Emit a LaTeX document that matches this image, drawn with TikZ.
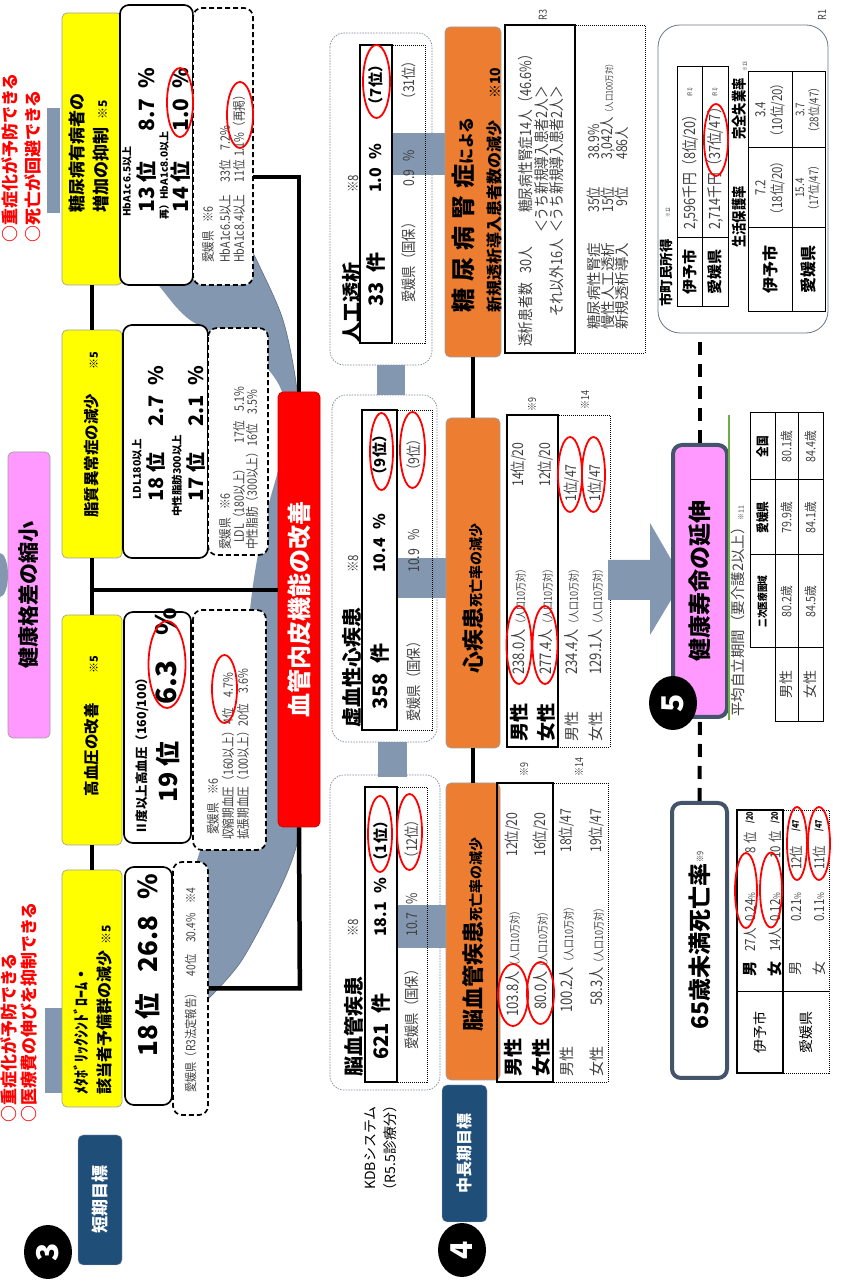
\documentclass[tikz,border=0pt]{standalone}
\usepackage{fontspec}
\setmainfont{Noto Sans CJK JP}
\newfontfamily\cnd{Noto Sans CJK JP}[FakeStretch=0.82]
\usetikzlibrary{shapes.geometric,positioning,calc}
\newcommand{\fz}[1]{\fontsize{#1}{\fpeval{1.2*(#1)}}\selectfont}
\definecolor{yfill}{HTML}{FFFF00}
\definecolor{ofill}{HTML}{ED7D31}
\definecolor{pfill}{HTML}{FF99FF}
\definecolor{navy}{HTML}{1F4E79}
\definecolor{band}{HTML}{8497B0}
\definecolor{slate}{HTML}{44546A}
\definecolor{leaf}{HTML}{70AD47}
\definecolor{ink}{HTML}{404040}

\begin{document}
\begin{tikzpicture}[x=1pt,y=1pt,rotate=90,transform shape,
  wh/.style 2 args={minimum width=#1pt,minimum height=#2pt},
  goal/.style={rectangle,rounded corners=5pt,draw=gray!75,line width=0.7pt,inner sep=0pt},
  tag/.style={rectangle,rounded corners=5pt,fill=navy,draw=gray!60,text=white,inner sep=0pt,font=\bfseries\fz{17}},
  num/.style={ellipse,fill=black,text=white,inner sep=0pt,minimum width=54pt,minimum height=48pt,font=\bfseries\fz{30}},
  wbox/.style={rectangle,rounded corners=9pt,draw=black,line width=1.7pt,fill=white,inner sep=0pt},
  dbox/.style={wbox,dash pattern=on 5pt off 3pt},
  grp/.style={rectangle,rounded corners=14pt,draw=slate!70,line width=0.7pt,dash pattern=on 1.5pt off 1.2pt,fill=white,inner sep=0pt},
  sbox/.style={rectangle,draw=black,line width=2pt,inner sep=0pt},
  dotbox/.style={rectangle,draw=black,line width=0.9pt,dash pattern=on 1pt off 1pt,inner sep=0pt},
  bigbox/.style={rectangle,rounded corners=9pt,draw=slate,line width=4pt,inner sep=0pt},
  ring/.style={ellipse,draw=red,line width=1.8pt,inner sep=0pt},
  link/.style={line width=4.5pt},
  dashlink/.style={line width=4pt,dash pattern=on 13pt off 9pt},
  tline/.style={line width=1pt},
  bt/.style={inner sep=0pt,font=\bfseries\fz{#1}},
  cbt/.style={inner sep=0pt,font=\cnd\bfseries\fz{#1}},
  lt/.style={inner sep=0pt,text=ink,font=\cnd\fz{#1}},
  rt/.style={inner sep=0pt,text=ink,font=\fz{#1}}]
\useasboundingbox (0,0) rectangle (1282,-843);
%%%%%%%%%%%%%%%%%%%%%%%%%%%%
%%%%%%%%% Background %%%%%%%
%%%%%%%%%%%%%%%%%%%%%%%%%%%%
\fill[band] plot[smooth] coordinates {(1030,-252) (1019,-258) (962,-283) (892,-297) (800,-303) (672,-306) (540,-304) (454,-300) (402,-284) (322,-242) (282,-207)}
  -- plot[smooth] coordinates {(282,-150) (322,-172) (425,-198) (500,-228) (582,-243) (672,-250) (722,-257) (775,-268) (830,-282) (890,-282) (930,-250) (962,-190) (995,-160) (1010,-150)} -- cycle;
\draw[slate!80,line width=0.7pt] plot[smooth] coordinates {(1030,-252) (1019,-258) (962,-283) (892,-297) (800,-303) (672,-306) (540,-304) (454,-300) (402,-284) (322,-242) (282,-207)};
\fill[band] (189,-45) rectangle (274,-63);
\fill[band] (1069,-47) rectangle (1174,-60);
\fill[band] (707,0) ellipse [x radius=22, y radius=8];
%%%%%%%%%%%%%%%%%%%%%%%%%%%%
%%%%%%%%% Step 3. %%%%%%%%%%
%%%%%%%%%%%%%%%%%%%%%%%%%%%%
\node[num] (no3) at (30,-48) {3};
\node[tag,wh={130}{44}] (short) at (82,-100) {短期目標};
\node[inner sep=0pt,text=red,anchor=west,align=left,font=\bfseries\fontsize{17}{20}\selectfont] (aimlow) at (159,-19) {○重症化が予防できる\\○医療費の伸びを抑制できる};
\node[inner sep=0pt,text=red,anchor=west,align=left,font=\bfseries\fontsize{17}{23}\selectfont] (aimhigh) at (1039,-21.5) {○重症化が予防できる\\○死亡が回避できる};
\node[goal,fill=yfill,wh={237}{60}] (metabo) at (293.5,-92) {};
\node[goal,fill=yfill,wh={230}{60}] (bp) at (552,-92) {};
\node[goal,fill=yfill,wh={228}{60}] (lipid) at (838,-92) {};
\node[goal,fill=yfill,wh={272}{60}] (dm) at (1133,-92) {};
\node[anchor=west,align=left,inner sep=0pt,font=\bfseries\fontsize{16}{23}\selectfont] (metabot) at (187,-93) {ﾒﾀﾎﾞﾘｯｸｼﾝﾄﾞﾛｰﾑ・\\該当者予備群の減少\hspace{6pt}{\fz{12}※5}};
\node[bt=15.5] (bpt) at (556,-92) {高血圧の改善\hspace{30pt}{\fz{11}※5}};
\node[bt=15.5] (lipidt) at (847,-92) {脂質異常症の減少\hspace{24pt}{\fz{11}※5}};
\node[anchor=west,align=left,inner sep=0pt,font=\bfseries\fontsize{17}{23.5}\selectfont] (dmt) at (1069,-89) {糖尿病有病者の\\増加の抑制\hspace{8pt}{\fz{12}※5}};
\node[wbox,wh={238}{47}] (metaboval) at (296,-148.5) {};
\node[wbox,wh={231}{67}] (bpval) at (554.5,-157.5) {};
\node[wbox,wh={233}{85}] (lipidval) at (840.5,-165.5) {};
\node[wbox,wh={280}{73}] (dmval) at (1137,-156.5) {};
\node[dbox,wh={253}{35}] (metabopref) at (293.5,-190.5) {};
\node[dbox,wh={240}{73}] (bppref) at (552,-229.5) {};
\node[dbox,wh={227}{60}] (lipidpref) at (840.5,-238) {};
\node[dbox,wh={277}{60}] (dmpref) at (1135.5,-223) {};
% values
\node[bt=26,anchor=west] (mv1) at (225,-148) {18 位\hspace{21pt}26.8\hspace{16pt}\%};
\node[bt=12.5,anchor=west] (bv1) at (447,-142) {Ⅱ度以上高血圧（160/100）};
\node[bt=25,anchor=west] (bv2) at (479,-168) {19 位};
\node[bt=28,anchor=west] (bv3) at (577,-166) {6.3\hspace{25pt}\%};
\node[ring,wh={87}{37}] (bvr) at (617.5,-167) {};
\node[bt=10.5,anchor=west] (lv1) at (782,-137) {LDL180以上};
\node[bt=20,anchor=west] (lv2) at (780,-156) {18 位};
\node[bt=20,anchor=west] (lv3) at (855,-156) {2.7\hspace{10pt}\%};
\node[bt=10.5,anchor=west] (lv4) at (765,-177) {中性脂肪300以上};
\node[bt=20,anchor=west] (lv5) at (780,-196) {17 位};
\node[bt=20,anchor=west] (lv6) at (855,-196) {2.1\hspace{10pt}\%};
\node[bt=10,anchor=west] (dv1) at (1065,-127) {HbA1c 6.5以上};
\node[bt=21,anchor=west] (dv2) at (1069,-147) {13 位};
\node[bt=21,anchor=west] (dv3) at (1150,-147) {8.7\hspace{10pt}\%};
\node[bt=10,anchor=west] (dv4) at (1062,-164) {再）HbA1c8.0以上};
\node[bt=21,anchor=west] (dv5) at (1069,-181) {14 位};
\node[bt=21,anchor=west] (dv6) at (1150,-181) {1.0\hspace{10pt}\%};
\node[ring,wh={69}{26}] (dvr) at (1179.5,-180) {};
% prefecture
\node[lt=12.5,anchor=west] (mp1) at (189,-190.5) {愛媛県（R3法定報告）\hspace{12pt}40位\hspace{12pt}30.4\%\hspace{10pt}※4};
\node[lt=13,anchor=west] (bp1) at (447,-213) {愛媛県\hspace{8pt}※6};
\node[lt=13,anchor=west] (bp2) at (442,-228) {収縮期血圧（160以上）\hspace{2pt}4位\hspace{10pt}4.7\%};
\node[lt=13,anchor=west] (bp3) at (442,-243) {拡張期血圧（100以上）20位\hspace{10pt}3.6\%};
\node[ring,wh={68}{25}] (bpr) at (593,-224.5) {};
\node[lt=13,anchor=west] (lp1) at (732,-225) {愛媛県\hspace{8pt}※6};
\node[lt=13,anchor=west] (lp2) at (739,-239) {LDL（180以上）\hspace{20pt}17位\hspace{10pt}5.1\%};
\node[lt=13,anchor=west] (lp3) at (732,-252) {中性脂肪（300以上）16位\hspace{10pt}3.5\%};
\node[lt=13,anchor=west] (dp1) at (1019,-208) {愛媛県\hspace{8pt}※6};
\node[lt=13,anchor=west] (dp2) at (1019,-225) {HbA1c6.5以上\hspace{12pt}33位\hspace{10pt}7.2\%};
\node[lt=13,anchor=west] (dp3) at (1019,-239) {HbA1c8.4以上\hspace{12pt}11位\hspace{3pt}1.1\%（再掲）};
\node[ring,wh={66}{26}] (dpr) at (1167,-240) {};
\node[goal,fill=pfill,wh={286}{42},font=\bfseries\fz{21}] (gap) at (687,-29) {健康格差の縮小};
\node[goal,fill=red,draw=red!80!black,wh={435}{42},text=white,font=\bfseries\fz{24}] (vessel) at (672.5,-299) {血管内皮機能の改善};
\draw[link] (dm.west) -- (lipid.east);
\draw[link] (lipid.west) -- (bp.east);
\draw[link] (bp.west) -- (metabo.east);
\coordinate (tap) at (692,-92);
\draw[link] (tap) -- (tap |- vessel.north);
\draw[link] (metabopref.south) -- ++(0,-91) -- (vessel.west);
\coordinate (dmtap) at (1105,-253);
\draw[link] (dmtap) -- ++(0,-46) -- (vessel.east);
%%%%%%%%%%%%%%%%%%%%%%%%%%%%
%%%%%%%%% Step 4. %%%%%%%%%%
%%%%%%%%%%%%%%%%%%%%%%%%%%%%
\node[num] (no4) at (32,-462) {4};
\node[tag,wh={137}{45},font=\bfseries\fz{16}] (midlong) at (128.5,-464.5) {中長期目標};
\node[inner sep=0pt,align=center,font=\fontsize{14}{20}\selectfont] (kdb) at (134,-381) {KDBシステム\\（R5.5診療分）};
\node[grp,wh={315}{110}] (stroke) at (349.5,-385) {};
\node[grp,wh={347}{105}] (heart) at (713.5,-384.5) {};
\node[grp,wh={332}{102}] (dialysis) at (1083,-381) {};
\fill[band] (505,-378) rectangle (540,-407);
\fill[band] (887,-377) rectangle (917,-405);
\fill[band] (334,-398) rectangle (377,-450);
\fill[band] (684,-398) rectangle (724,-448);
\fill[band] (1107,-393) rectangle (1149,-446);
\node[sbox,wh={295}{32}] (strokeown) at (347.5,-381) {};
\node[dotbox,wh={295}{30}] (strokepref) at (347.5,-412) {};
\node[sbox,wh={320}{35}] (heartown) at (712,-379.5) {};
\node[dotbox,wh={320}{35}] (heartpref) at (712,-414.5) {};
\node[sbox,wh={298}{32}] (dialown) at (1088,-376) {};
\node[dotbox,wh={298}{33}] (dialpref) at (1088,-408.5) {};
\node[bt=20,anchor=west] (st1) at (205,-354) {脳血管疾患};
\node[lt=14,anchor=west] (st2) at (345,-353) {※8};
\node[bt=20,anchor=west] (ht1) at (554,-352) {虚血性心疾患};
\node[lt=14,anchor=west] (ht2) at (709,-353) {※8};
\node[bt=20,anchor=west] (dt1) at (939,-352) {人工透析};
\node[lt=14,anchor=west] (dt2) at (1089,-353) {※8};
\node[bt=20,anchor=west] (so1) at (222,-381) {621\hspace{10pt}件};
\node[bt=16,anchor=west] (so2) at (345,-381) {18.1\hspace{8pt}\%};
\node[bt=15] (so3) at (441,-381) {（1位）};
\node[ring,wh={76}{24}] (sor) at (448,-380) {};
\node[lt=15,anchor=west] (sp1) at (232,-412) {愛媛県（国保）};
\node[lt=15,anchor=west] (sp2) at (345,-412) {10.7\hspace{8pt}\%};
\node[lt=15] (sp3) at (443,-412) {（12位）};
\node[ring,wh={76}{25}] (spr) at (450,-409.5) {};
\node[bt=20,anchor=west] (ho1) at (572,-380) {358\hspace{10pt}件};
\node[bt=16,anchor=west] (ho2) at (709,-380) {10.4\hspace{8pt}\%};
\node[bt=15] (ho3) at (827,-380) {（9位）};
\node[ring,wh={77}{23}] (hor) at (830.5,-381.5) {};
\node[lt=15,anchor=west] (hp1) at (560,-414) {愛媛県（国保）};
\node[lt=15,anchor=west] (hp2) at (709,-414) {10.9\hspace{8pt}\%};
\node[lt=15] (hp3) at (827,-414) {（9位）};
\node[ring,wh={76}{25}] (hpr) at (832,-412.5) {};
\node[bt=20,anchor=west] (do1) at (975,-376) {33\hspace{10pt}件};
\node[bt=16,anchor=west] (do2) at (1089,-376) {1.0\hspace{8pt}\%};
\node[bt=15] (do3) at (1197,-376) {（7位）};
\node[ring,wh={73}{27}] (dor) at (1200.5,-376.5) {};
\node[lt=15,anchor=west] (dp4) at (979,-409) {愛媛県（国保）};
\node[lt=15,anchor=west] (dp5) at (1095,-409) {0.9\hspace{8pt}\%};
\node[lt=15] (dp6) at (1202,-409) {（31位）};
% death rates
\node[goal,fill=ofill,wh={297}{54}] (strokedeath) at (350.5,-473) {};
\node[goal,fill=ofill,wh={330}{54}] (heartdeath) at (699,-473) {};
\node[goal,fill=ofill,wh={330}{56}] (newdial) at (1090,-473) {};
\node[inner sep=0pt,font=\bfseries] (sdt) at (347,-473) {{\fz{22}脳血管疾患}{\fz{14}死亡率の減少}};
\node[inner sep=0pt,font=\bfseries] (hdt) at (683,-473) {{\fz{22}心疾患}{\fz{14}死亡率の減少}};
\node[inner sep=0pt,anchor=west,align=left,font=\bfseries\fontsize{16}{28}\selectfont] (ndt) at (969,-477) {{\fz{24}糖\kern7pt 尿\kern7pt 病\kern7pt 腎\kern7pt 症}{\fz{16}による}\\新規透析導入患者数の減少\hspace{22pt}{\fz{14}※10}};
\draw[link] (strokedeath.east) -- (heartdeath.west);
\draw[link] (heartdeath.east) -- (newdial.west);
\node[sbox,wh={299}{56}] (stab) at (349.5,-525) {};
\node[dotbox,wh={299}{55}] (stabp) at (349.5,-580.5) {};
\node[sbox,wh={332}{51}] (htab) at (701,-532.5) {};
\node[dotbox,wh={332}{52}] (htabp) at (701,-584) {};
\node[sbox,wh={328}{70}] (dtab) at (1093,-540) {};
\node[dotbox,wh={328}{70}] (dtabp) at (1093,-610) {};
% stroke table
\node[bt=19,anchor=west] (sa1) at (205,-513) {男性};
\node[lt=16,anchor=west] (sa2) at (265,-513) {103.8人{\fz{11}（人口10万対）}};
\node[lt=15,anchor=west] (sa3) at (425,-513) {12位/20};
\node[bt=19,anchor=west] (sa4) at (205,-541) {女性};
\node[lt=16,anchor=west] (sa5) at (272,-541) {80.0人{\fz{11}（人口10万対）}};
\node[lt=15,anchor=west] (sa6) at (425,-541) {16位/20};
\node[ring,wh={62}{30}] (sar1) at (287,-513) {};
\node[ring,wh={62}{27}] (sar2) at (289,-540.5) {};
\node[rt=15,anchor=west] (sa7) at (205,-567) {男性};
\node[lt=16,anchor=west] (sa8) at (269,-567) {100.2人{\fz{11}（人口10万対）}};
\node[lt=15,anchor=west] (sa9) at (429,-567) {18位/47};
\node[rt=15,anchor=west] (sa10) at (205,-597) {女性};
\node[lt=16,anchor=west] (sa11) at (276,-597) {58.3人{\fz{11}（人口10万対）}};
\node[lt=15,anchor=west] (sa12) at (429,-597) {19位/47};
\node[lt=11,anchor=west] (sa13) at (505,-524) {※9};
\node[lt=11,anchor=west] (sa14) at (505,-579) {※14};
% heart table
\node[bt=19,anchor=west] (ha1) at (540,-519) {男性};
\node[lt=16,anchor=west] (ha2) at (607,-519) {238.0人{\fz{11}（人口10万対）}};
\node[lt=15,anchor=west] (ha3) at (795,-519) {14位/20};
\node[bt=19,anchor=west] (ha4) at (540,-546) {女性};
\node[lt=16,anchor=west] (ha5) at (607,-546) {277.4人{\fz{11}（人口10万対）}};
\node[lt=15,anchor=west] (ha6) at (795,-546) {12位/20};
\node[ring,wh={78}{25}] (har1) at (637,-519) {};
\node[ring,wh={78}{25}] (har2) at (637,-545) {};
\node[rt=15,anchor=west] (ha7) at (540,-572) {男性};
\node[lt=16,anchor=west] (ha8) at (607,-572) {234.4人{\fz{11}（人口10万対）}};
\node[lt=15,anchor=west] (ha9) at (780,-572) {1位/47};
\node[rt=15,anchor=west] (ha10) at (540,-596) {女性};
\node[lt=16,anchor=west] (ha11) at (607,-596) {129.1人{\fz{11}（人口10万対）}};
\node[lt=15,anchor=west] (ha12) at (780,-596) {1位/47};
\node[ring,wh={75}{24}] (har3) at (807.5,-570) {};
\node[ring,wh={75}{23}] (har4) at (807.5,-593.5) {};
\node[lt=11,anchor=west] (ha13) at (870,-532) {※9};
\node[lt=11,anchor=west] (ha14) at (872,-585) {※14};
% dialysis table
\node[lt=15.5,anchor=west] (da1) at (935,-526) {透析患者数\hspace{10pt}30人};
\node[lt=15.5,anchor=west] (da2) at (1069,-526) {糖尿病性腎症14人（46.6\%）};
\node[lt=15.5,anchor=west] (da3) at (1049,-542) {＜うち新規導入患者2人＞};
\node[lt=15.5,anchor=west] (da4) at (965,-557) {それ以外16人};
\node[lt=15.5,anchor=west] (da5) at (1049,-557) {＜うち新規導入患者2人＞};
\node[lt=11] (da6) at (1267,-543) {R3};
\node[rt=14.5,anchor=west] (da7) at (952,-594) {糖尿病性腎症};
\node[lt=15,anchor=west] (da8) at (1069,-594) {35位};
\node[lt=15,anchor=west] (da9) at (1122,-594) {38.9\%};
\node[rt=14.5,anchor=west] (da10) at (952,-608) {慢性人工透析};
\node[lt=15,anchor=west] (da11) at (1069,-608) {15位};
\node[lt=15,anchor=west] (da12) at (1122,-608) {3,042人{\fz{9}（人口100万対）}};
\node[rt=14.5,anchor=west] (da13) at (952,-622) {新規透析導入};
\node[lt=15,anchor=west] (da14) at (1075,-622) {9位};
\node[lt=15,anchor=west] (da15) at (1122,-622) {486人};
\node[lt=11] (da16) at (1267,-822) {R1};
%%%%%%%%%%%%%%%%%%%%%%%%%%%%
%%%%%%%%% Step 5. %%%%%%%%%%
%%%%%%%%%%%%%%%%%%%%%%%%%%%%
\node[rectangle,rounded corners=22pt,draw=slate!80,line width=0.8pt,wh={308}{170}] (income) at (1103,-743) {};
\node[bt=13.5,anchor=west] (inct) at (975,-666) {市町民所得};
\node[lt=6,anchor=west] (inc12) at (1064,-668) {※12};
\node[tline,draw,rectangle,inner sep=0pt,wh={240}{51}] (inctab) at (1095,-702.5) {};
\draw[tline] (inctab.west) -- (inctab.east);
\draw[tline] (1044,-677) -- (1044,-728);
\node[bt=15] (ia1) at (1009.5,-690) {伊予市};
\node[bt=15] (ia2) at (1009.5,-715) {愛媛県};
\node[lt=15.5,anchor=west] (ia3) at (1052,-690) {2,596千円（8位/20）};
\node[lt=6,anchor=west] (ia4) at (1185,-690) {(R1)};
\node[lt=15.5,anchor=west] (ia5) at (1052,-715) {2,714千円（37位/47）};
\node[lt=6,anchor=west] (ia6) at (1185,-715) {(R1)};
\node[ring,wh={72}{24}] (iar) at (1142,-716) {};
\node[cbt=15,anchor=west] (wl1) at (1034,-739) {生活保護率};
\node[cbt=15,anchor=west] (wl2) at (1142,-739) {完全失業率};
\node[lt=6,anchor=west] (wl3) at (1210,-745) {※13};
\node[tline,draw,rectangle,inner sep=0pt,wh={240}{77}] (wltab) at (1090,-786.5) {};
\draw[tline] (970,-792) -- (1210,-792);
\draw[tline] (1054,-748) -- (1054,-825);
\draw[tline] (1134,-748) -- (1134,-825);
\node[bt=16] (wa1) at (1012,-770) {伊予市};
\node[bt=16] (wa2) at (1012,-808) {愛媛県};
\node[lt=14,align=center] (wa3) at (1094,-770) {7.2\\（18位/20）};
\node[lt=14,align=center] (wa4) at (1172,-770) {3.4\\（10位/20）};
\node[lt=14,align=center,font=\cnd\fontsize{12}{14}\selectfont] (wa5) at (1094,-808) {15.4\\（17位/47）};
\node[lt=14,align=center,font=\cnd\fontsize{12}{14}\selectfont] (wa6) at (1172,-808) {3.7\\（28位/47）};
% healthy life expectancy
\fill[band] (682,-608) -- (722,-608) -- (722,-650) -- (759,-650) -- (702,-683) -- (647,-650) -- (682,-650) -- cycle;
\node[bigbox,fill=pfill,wh={272}{54},font=\bfseries\fz{23}] (kenko) at (701,-700) {健康寿命の延伸};
\draw[leaf,line width=1.2pt] (562,-729) -- (867,-729);
\node[num] (no5) at (579,-673) {5};
\node[bigbox,fill=white,wh={275}{55}] (under65) at (341.5,-699.5) {};
\node[bt=23,anchor=west] (u65t) at (252,-700) {65歳未満死亡率};
\node[lt=9,anchor=west] (u65n) at (419,-700) {※9};
\draw[dashlink] (kenko.east) -- (income.west |- kenko.east);
\draw[dashlink] (under65.east) -- (kenko.west);
\node[rt=14.5,anchor=west] (avg) at (565,-738) {平均自立期間（要介護2以上）{\fz{7}※11}};
\draw[tline] (634,-750) rectangle (869,-775);
\draw[tline] (560,-775) rectangle (869,-823);
\draw[tline] (560,-798) -- (869,-798);
\draw[tline] (634,-750) -- (634,-823);
\draw[tline] (727,-750) -- (727,-823);
\draw[tline] (802,-750) -- (802,-823);
\node[cbt=10.5] (lh1) at (680.5,-762.5) {二次医療圏域};
\node[cbt=13] (lh2) at (764.5,-762.5) {愛媛県};
\node[cbt=13] (lh3) at (835.5,-762.5) {全国};
\node[rt=14] (lm) at (597,-786.5) {男性};
\node[rt=14] (lf) at (597,-810.5) {女性};
\node[lt=13] (lv11) at (680.5,-786.5) {80.2歳};
\node[lt=13] (lv12) at (764.5,-786.5) {79.9歳};
\node[lt=13] (lv13) at (835.5,-786.5) {80.1歳};
\node[lt=13] (lv21) at (680.5,-810.5) {84.5歳};
\node[lt=13] (lv22) at (764.5,-810.5) {84.1歳};
\node[lt=13] (lv23) at (835.5,-810.5) {84.4歳};
% under 65 table
\node[sbox,wh={263}{46}] (mtab) at (340.5,-760) {};
\node[dotbox,wh={263}{46}] (mtabp) at (340.5,-806) {};
\draw[tline] (290,-737) -- (290,-829);
\node[rt=14,text=black] (m1) at (249.5,-760) {伊予市};
\node[rt=14,text=black] (m2) at (249.5,-806) {愛媛県};
\node[bt=15] (m3) at (313,-750) {男};
\node[bt=15] (m4) at (313,-775) {女};
\node[rt=14] (m5) at (313,-796) {男};
\node[rt=14] (m6) at (313,-819) {女};
\node[lt=14,anchor=west] (m7) at (330,-750) {27人};
\node[lt=14,anchor=west] (m8) at (360,-750) {0.24{\fz{9}\%}};
\node[lt=14,anchor=west] (m9) at (428,-750) {8\hspace{4pt}位};
\node[cbt=9,anchor=west] (m10) at (458,-750) {/20};
\node[lt=14,anchor=west] (m11) at (330,-775) {14人};
\node[lt=14,anchor=west] (m12) at (360,-775) {0.12{\fz{9}\%}};
\node[lt=14,anchor=west] (m13) at (423,-775) {10\hspace{4pt}位};
\node[cbt=9,anchor=west] (m14) at (458,-775) {/20};
\node[lt=14,anchor=west] (m15) at (360,-796) {0.21{\fz{9}\%}};
\node[lt=14,anchor=west] (m16) at (412,-796) {12位};
\node[cbt=9,anchor=west] (m17) at (450,-796) {/47};
\node[lt=14,anchor=west] (m18) at (360,-819) {0.11{\fz{9}\%}};
\node[lt=14,anchor=west] (m19) at (412,-819) {11位};
\node[cbt=9,anchor=west] (m20) at (450,-819) {/47};
\node[ring,wh={75}{22}] (mr1) at (391.5,-746) {};
\node[ring,wh={75}{22}] (mr2) at (392,-771) {};
\node[ring,wh={73}{20}] (mr3) at (438.5,-797) {};
\node[ring,wh={73}{22}] (mr4) at (438.5,-819) {};
\end{tikzpicture}
\end{document}
